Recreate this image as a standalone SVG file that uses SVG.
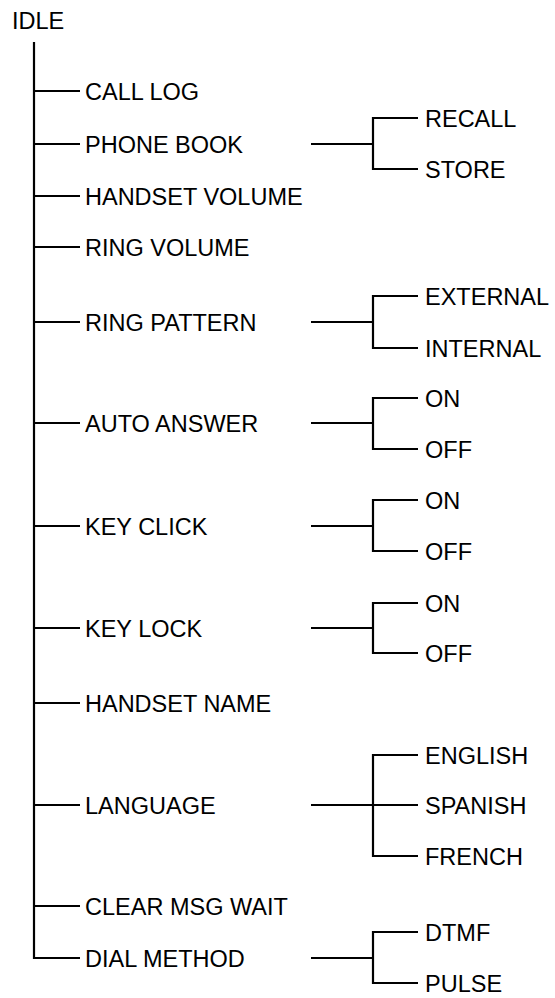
<svg xmlns="http://www.w3.org/2000/svg" width="555" height="998" viewBox="0 0 555 998">
<style>
.t{font-family:"Liberation Sans",Arial,sans-serif;font-size:23.5px;fill:#000}
.c{fill:none;stroke:#000;stroke-width:2.2;stroke-linejoin:miter}
</style>
<rect width="555" height="998" fill="#fff"/>
<g id="connectors">
<path class="c" d="M34 42V958H80"/>
<path class="c" d="M34 91H80M34 144H80M34 196H80M34 247H80M34 322H80M34 423H80M34 526H80M34 628H80M34 703H80M34 805H80M34 906H80"/>
<path class="c" d="M311 144H373M418 118H373V169H418"/>
<path class="c" d="M311 322H373M418 296H373V348H418"/>
<path class="c" d="M311 423H373M418 398H373V449H418"/>
<path class="c" d="M311 526H373M418 500H373V551H418"/>
<path class="c" d="M311 628H373M418 603H373V653H418"/>
<path class="c" d="M311 805H418M418 755H373V856H418"/>
<path class="c" d="M311 958H373M418 932H373V983H418"/>
</g>
<g id="idle"><text class="t" x="12" y="29">IDLE</text></g>
<g id="call-log"><text class="t" x="85" y="99.5">CALL LOG</text></g>
<g id="phone-book"><text class="t" x="85" y="152.5">PHONE BOOK</text></g>
<g id="recall"><text class="t" x="425" y="126.5">RECALL</text></g>
<g id="store"><text class="t" x="425" y="177.5">STORE</text></g>
<g id="handset-volume"><text class="t" x="85" y="204.5">HANDSET VOLUME</text></g>
<g id="ring-volume"><text class="t" x="85" y="255.5">RING VOLUME</text></g>
<g id="ring-pattern"><text class="t" x="85" y="330.5">RING PATTERN</text></g>
<g id="external"><text class="t" x="425" y="304.5">EXTERNAL</text></g>
<g id="internal"><text class="t" x="425" y="356.5">INTERNAL</text></g>
<g id="auto-answer"><text class="t" x="85" y="431.5">AUTO ANSWER</text></g>
<g id="aa-on"><text class="t" x="425" y="406.5">ON</text></g>
<g id="aa-off"><text class="t" x="425" y="457.5">OFF</text></g>
<g id="key-click"><text class="t" x="85" y="534.5">KEY CLICK</text></g>
<g id="kc-on"><text class="t" x="425" y="508.5">ON</text></g>
<g id="kc-off"><text class="t" x="425" y="559.5">OFF</text></g>
<g id="key-lock"><text class="t" x="85" y="636.5">KEY LOCK</text></g>
<g id="kl-on"><text class="t" x="425" y="611.5">ON</text></g>
<g id="kl-off"><text class="t" x="425" y="661.5">OFF</text></g>
<g id="handset-name"><text class="t" x="85" y="711.5">HANDSET NAME</text></g>
<g id="language"><text class="t" x="85" y="813.5">LANGUAGE</text></g>
<g id="english"><text class="t" x="425" y="763.5">ENGLISH</text></g>
<g id="spanish"><text class="t" x="425" y="813.5">SPANISH</text></g>
<g id="french"><text class="t" x="425" y="864.5">FRENCH</text></g>
<g id="clear-msg-wait"><text class="t" x="85" y="914.5">CLEAR MSG WAIT</text></g>
<g id="dial-method"><text class="t" x="85" y="966.5">DIAL METHOD</text></g>
<g id="dtmf"><text class="t" x="425" y="940.5">DTMF</text></g>
<g id="pulse"><text class="t" x="425" y="991.5">PULSE</text></g>
</svg>
